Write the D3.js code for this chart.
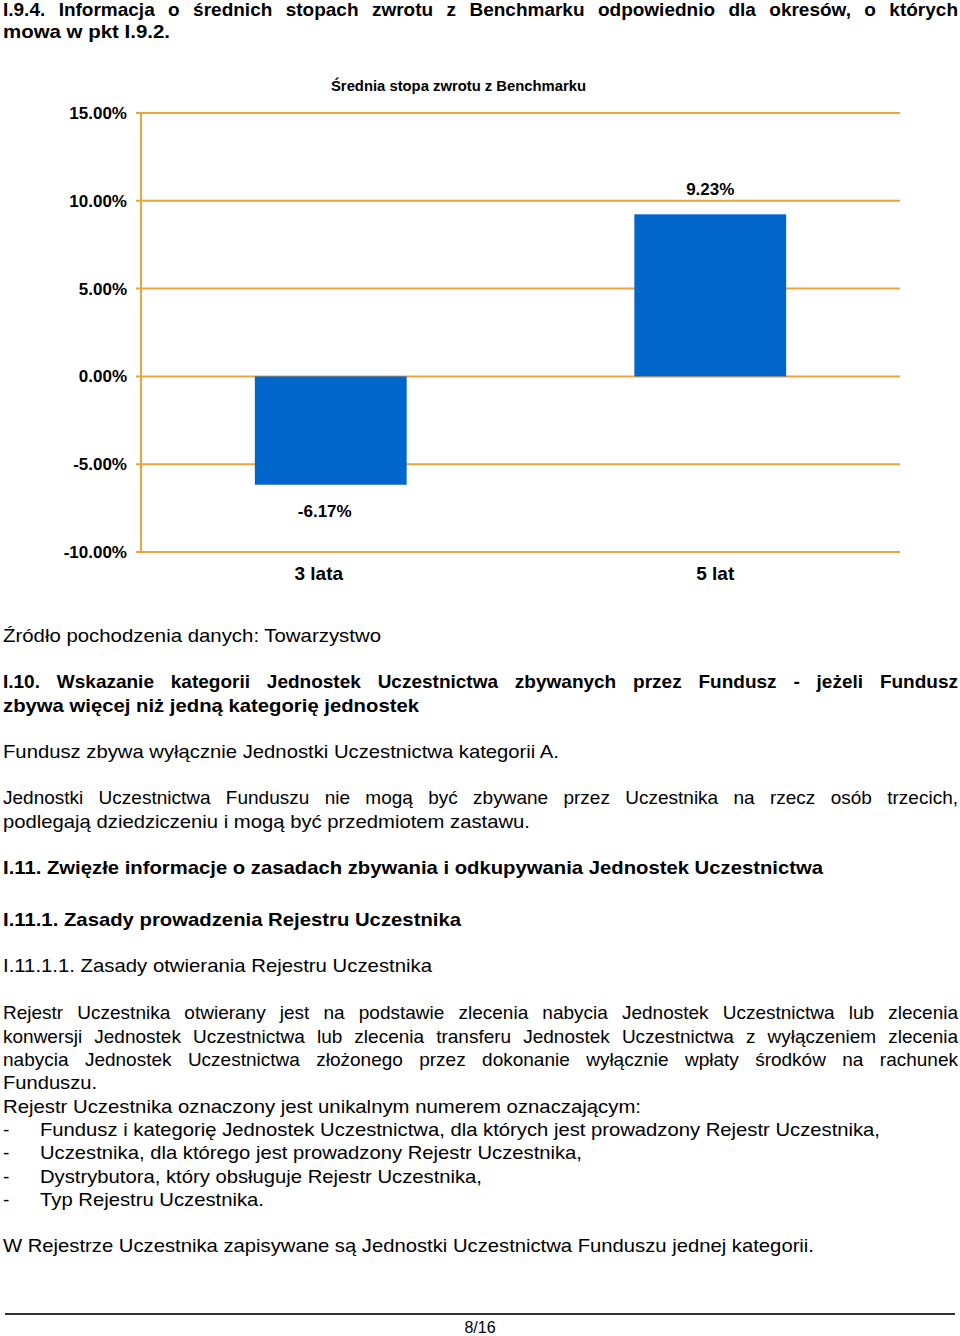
<!DOCTYPE html>
<html><head><meta charset="utf-8">
<script src="https://cdn.jsdelivr.net/npm/d3@7/dist/d3.min.js"></script>
<style>html,body{margin:0;padding:0;background:#fff;} svg{display:block;}</style>
</head><body>
<script>
// ---- chart data ----
const categories = ["3 lata", "5 lat"];
const values = [-6.17, 9.23];
const yTicks = [-10, -5, 0, 5, 10, 15];
const chartTitle = "Średnia stopa zwrotu z Benchmarku";

const W = 960, H = 1336;
const svg = d3.select("body").append("svg").attr("width", W).attr("height", H)
  .style("font-family", "'Liberation Sans', Arial, Helvetica, sans-serif");

const pct = d => d3.format(".2f")(d).replace("\u2212", "-") + "%";

// ---- text helper ----
function line(t, x0, x1, y, o = {}) {
  const size = o.size || 19, weight = o.bold ? "bold" : "normal";
  const g = svg.append("g");
  if (o.justify) {
    const words = t.split(" ");
    const nodes = words.map(w => g.append("text").attr("y", y).attr("font-size", size)
      .attr("font-weight", weight).attr("fill", "#000").text(w));
    const ws = nodes.map(n => n.node().getComputedTextLength());
    const sum = d3.sum(ws);
    const gap = (x1 - x0 - sum) / (words.length - 1);
    if (gap < size * 0.2) {
      g.selectAll("*").remove();
      g.append("text").attr("x", x0).attr("y", y).attr("font-size", size).attr("font-weight", weight)
        .attr("textLength", x1 - x0).attr("lengthAdjust", "spacingAndGlyphs").text(t);
      return;
    }
    let x = x0;
    nodes.forEach((n, i) => { n.attr("x", x); x += ws[i] + gap; });
  } else {
    const n = g.append("text").attr("x", x0).attr("y", y).attr("font-size", size)
      .attr("font-weight", weight).attr("fill", "#000").text(t);
    if (x1 != null) n.attr("textLength", x1 - x0).attr("lengthAdjust", "spacingAndGlyphs");
  }
}

// ---- headings above chart ----
line("I.9.4. Informacja o średnich stopach zwrotu z Benchmarku odpowiednio dla okresów, o których", 3, 958, 16, {bold: true, justify: true});
line("mowa w pkt I.9.2.", 3, 170, 38, {bold: true});

// ---- chart ----
const plot = {left: 141, right: 900, top: 113, bottom: 552};
const x = d3.scaleBand().domain(categories).range([plot.left, plot.right]).padding(0);
const y = d3.scaleLinear().domain([d3.min(yTicks), d3.max(yTicks)]).range([plot.bottom, plot.top]);
const gridColor = "#EBA53C";

svg.append("text").attr("x", (331 + 586) / 2).attr("y", 91).attr("text-anchor", "middle")
  .attr("font-size", 15).attr("font-weight", "bold")
  .attr("textLength", 255).attr("lengthAdjust", "spacingAndGlyphs").text(chartTitle);

// gridlines
svg.append("g").selectAll("line").data(yTicks).join("line")
  .attr("x1", plot.left - 5).attr("x2", plot.right)
  .attr("y1", d => y(d)).attr("y2", d => y(d))
  .attr("stroke", gridColor).attr("stroke-width", 2);
// vertical axis
svg.append("line").attr("x1", plot.left).attr("x2", plot.left)
  .attr("y1", y(d3.max(yTicks))).attr("y2", y(d3.min(yTicks)))
  .attr("stroke", gridColor).attr("stroke-width", 2);
// tick labels
svg.append("g").selectAll("text").data(yTicks).join("text")
  .attr("x", 127).attr("y", d => y(d) + 6).attr("text-anchor", "end")
  .attr("font-size", 17).attr("font-weight", "bold")
  .text(pct);

// bars
const barW = x.bandwidth() * 0.4;
svg.append("g").selectAll("rect").data(values).join("rect")
  .attr("x", (d, i) => x(categories[i]) + (x.bandwidth() - barW) / 2)
  .attr("width", barW)
  .attr("y", d => y(Math.max(0, d)))
  .attr("height", d => Math.abs(y(d) - y(0)))
  .attr("fill", "#0066CC");

// value labels
svg.append("g").selectAll("text").data(values).join("text")
  .attr("x", (d, i) => x(categories[i]) + x.bandwidth() / 2 - (d < 0 ? 6 : 0))
  .attr("y", d => d >= 0 ? y(d) - 19 : y(d) + 32)
  .attr("text-anchor", "middle").attr("font-size", 17).attr("font-weight", "bold")
  .text(pct);

// category labels
svg.append("g").selectAll("text").data(categories).join("text")
  .attr("x", d => x(d) + x.bandwidth() / 2 - (d === categories[0] ? 12 : -5))
  .attr("y", 580).attr("text-anchor", "middle").attr("font-size", 19).attr("font-weight", "bold")
  .text(d => d);

// ---- body text ----
line("Źródło pochodzenia danych: Towarzystwo", 3, 381, 642);
line("I.10. Wskazanie kategorii Jednostek Uczestnictwa zbywanych przez Fundusz - jeżeli Fundusz", 3, 958, 688, {bold: true, justify: true});
line("zbywa więcej niż jedną kategorię jednostek", 3, 419, 712, {bold: true});
line("Fundusz zbywa wyłącznie Jednostki Uczestnictwa kategorii A.", 3, 559, 758);
line("Jednostki Uczestnictwa Funduszu nie mogą być zbywane przez Uczestnika na rzecz osób trzecich,", 3, 958, 804, {justify: true});
line("podlegają dziedziczeniu i mogą być przedmiotem zastawu.", 3, 530, 828);
line("I.11. Zwięzłe informacje o zasadach zbywania i odkupywania Jednostek Uczestnictwa", 3, 823, 874, {bold: true});
line("I.11.1. Zasady prowadzenia Rejestru Uczestnika", 3, 461, 926, {bold: true});
line("I.11.1.1. Zasady otwierania Rejestru Uczestnika", 3, 432, 972);
line("Rejestr Uczestnika otwierany jest na podstawie zlecenia nabycia Jednostek Uczestnictwa lub zlecenia", 3, 958, 1019, {justify: true});
line("konwersji Jednostek Uczestnictwa lub zlecenia transferu Jednostek Uczestnictwa z wyłączeniem zlecenia", 3, 958, 1043, {justify: true});
line("nabycia Jednostek Uczestnictwa złożonego przez dokonanie wyłącznie wpłaty środków na rachunek", 3, 958, 1066, {justify: true});
line("Funduszu.", 3, 97, 1089);
line("Rejestr Uczestnika oznaczony jest unikalnym numerem oznaczającym:", 3, 641, 1113);
const items = [
  ["Fundusz i kategorię Jednostek Uczestnictwa, dla których jest prowadzony Rejestr Uczestnika,", 880, 1136],
  ["Uczestnika, dla którego jest prowadzony Rejestr Uczestnika,", 582, 1159],
  ["Dystrybutora, który obsługuje Rejestr Uczestnika,", 482, 1183],
  ["Typ Rejestru Uczestnika.", 264, 1206]
];
items.forEach(([t, x1, yy]) => { line("-", 3, null, yy); line(t, 40, x1, yy); });
line("W Rejestrze Uczestnika zapisywane są Jednostki Uczestnictwa Funduszu jednej kategorii.", 3, 814, 1252);

// footer
svg.append("line").attr("x1", 5).attr("x2", 955).attr("y1", 1314).attr("y2", 1314)
  .attr("stroke", "#333").attr("stroke-width", 2);
svg.append("text").attr("x", 480).attr("y", 1333).attr("text-anchor", "middle")
  .attr("font-size", 16).text("8/16");
</script>
</body></html>
